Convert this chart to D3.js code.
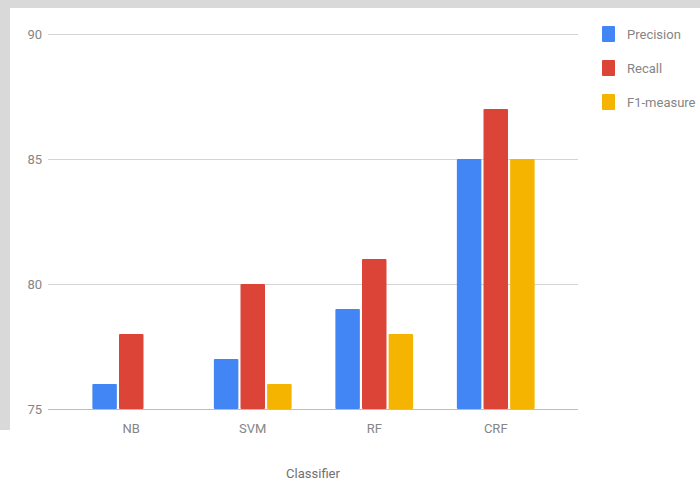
<!DOCTYPE html>
<html>
<head>
<meta charset="utf-8">
<script src="https://cdn.jsdelivr.net/npm/d3@7"></script>
<style>
  body { margin: 0; background: #fff; }
  svg { display: block; font-family: Roboto, "Open Sans", sans-serif; }
</style>
</head>
<body>
<svg width="700" height="484"></svg>
<script>
// data
const classifiers = ["NB", "SVM", "RF", "CRF"];
const seriesNames = ["Precision", "Recall", "F1-measure"];
const precision = [76, 77, 79, 85];
const recall = [78, 80, 81, 87];
const f1 = [75, 76, 78, 85];
const yTicks = [75, 80, 85, 90];
const colors = ["#4285f4", "#db4437", "#f4b400"];

const svg = d3.select("svg");

// grey page edges from the scanned source
svg.append("rect").attr("x", 0).attr("y", 0).attr("width", 700).attr("height", 8).attr("fill", "#d9d9d9");
svg.append("rect").attr("x", 0).attr("y", 0).attr("width", 10).attr("height", 430).attr("fill", "#d9d9d9");

const rows = classifiers.map((c, i) => ({ name: c, values: [precision[i], recall[i], f1[i]] }));

const y = d3.scaleLinear().domain([75, 90]).range([409, 34]);

const x0 = d3.scaleBand().domain(classifiers).range([70.5, 556.5]).paddingInner(0.36).paddingOuter(0.18);
const x1 = d3.scaleBand().domain(d3.range(3)).range([0, x0.bandwidth()]).paddingInner(0.08);

// gridlines
svg.append("g").attr("class", "grid")
  .selectAll("line")
  .data(yTicks)
  .join("line")
    .attr("x1", 48)
    .attr("x2", 578)
    .attr("y1", d => Math.round(y(d)) + 0.5)
    .attr("y2", d => Math.round(y(d)) + 0.5)
    .attr("stroke", d => d === 75 ? "#bdbdbd" : "#d4d4d4")
    .attr("stroke-width", 1.2);

// y tick labels
svg.append("g")
  .selectAll("text")
  .data(yTicks)
  .join("text")
    .attr("x", 42)
    .attr("y", d => y(d))
    .attr("dy", "0.35em")
    .attr("text-anchor", "end")
    .attr("font-size", 13)
    .attr("fill", "#858585")
    .text(d => d);

// bars
const groups = svg.append("g")
  .selectAll("g")
  .data(rows)
  .join("g")
    .attr("transform", d => "translate(" + x0(d.name) + ",0)");

groups.selectAll("rect")
  .data(d => d.values.map((v, i) => ({ v: v, i: i })))
  .join("rect")
    .attr("x", d => x1(d.i))
    .attr("y", d => y(d.v))
    .attr("width", x1.bandwidth())
    .attr("height", d => y(75) - y(d.v))
    .attr("rx", 1)
    .attr("fill", d => colors[d.i]);

// x labels
svg.append("g")
  .selectAll("text")
  .data(classifiers)
  .join("text")
    .attr("x", d => x0(d) + x0.bandwidth() / 2)
    .attr("y", 428)
    .attr("dy", "0.35em")
    .attr("text-anchor", "middle")
    .attr("font-size", 13)
    .attr("fill", "#858585")
    .text(d => d);

svg.append("text")
  .attr("x", 313)
  .attr("y", 473)
  .attr("dy", "0.35em")
  .attr("text-anchor", "middle")
  .attr("font-size", 13)
  .attr("fill", "#707070")
  .text("Classifier");

// legend
const legend = svg.append("g")
  .selectAll("g")
  .data(seriesNames)
  .join("g")
    .attr("transform", (d, i) => "translate(602," + (34 + i * 34) + ")");

legend.append("rect")
  .attr("x", 0)
  .attr("y", -8)
  .attr("width", 13)
  .attr("height", 16)
  .attr("rx", 1)
  .attr("fill", (d, i) => colors[i]);

legend.append("text")
  .attr("x", 25)
  .attr("y", 0)
  .attr("dy", "0.35em")
  .attr("font-size", 13)
  .attr("fill", "#858585")
  .text(d => d);
</script>
</body>
</html>
